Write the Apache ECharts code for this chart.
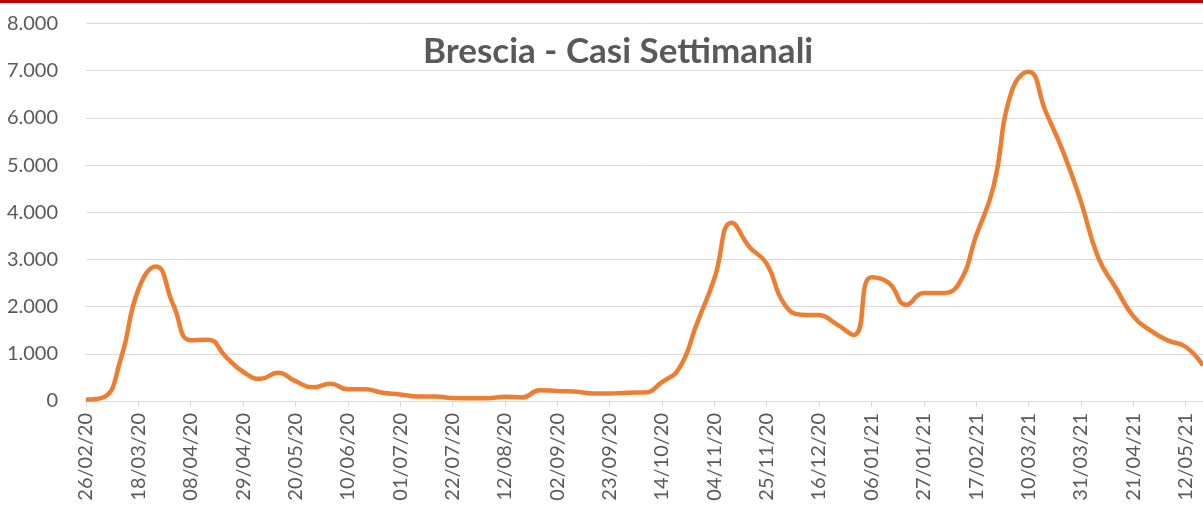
<!DOCTYPE html>
<html>
<head>
<meta charset="utf-8">
<title>Brescia - Casi Settimanali</title>
<script src="https://cdn.jsdelivr.net/npm/echarts@6/dist/echarts.min.js"></script>
<style>
  html, body { margin: 0; padding: 0; background: #fff; }
  #chart { width: 1203px; height: 512px; }
</style>
</head>
<body>
<div id="chart"></div>
<script>
// settimane: dal 26/02/20, una ogni 7 giorni
var firstWeek = '26/02/20';
var weekCount = 65;

// casi settimanali
var casi = [
    30, 80, 900, 2360, 2850, 2040, 1290, 1300, 940, 620,
    470, 600, 420, 290, 365, 250, 250, 175, 140, 95,
    95, 65, 60, 60, 90, 75, 230, 210, 200, 160,
    160, 175, 180, 400, 700, 1640, 2590, 3780, 3270, 2910,
    2060, 1830, 1820, 1630, 1400, 2620, 2500, 2040, 2290, 2290,
    2480, 3500, 4550, 6520, 6980, 6120, 5270, 4230, 3040, 2400,
    1800, 1490, 1280, 1150, 750
];

var yTicks = [0, 1000, 2000, 3000, 4000, 5000, 6000, 7000, 8000];

function pad(n) { return (n < 10 ? '0' : '') + n; }

function buildWeeks(start, n) {
    var p = start.split('/');
    var d = new Date(2000 + (+p[2]), (+p[1]) - 1, +p[0]);
    var out = [];
    for (var i = 0; i < n; i++) {
        out.push(pad(d.getDate()) + '/' + pad(d.getMonth() + 1) + '/' + pad(d.getFullYear() % 100));
        d.setDate(d.getDate() + 7);
    }
    return out;
}

var settimane = buildWeeks(firstWeek, weekCount);

var chart = echarts.init(document.getElementById('chart'));

var textColor = '#595959';
var gridColor = '#d9d9d9';

option = {
    animation: false,
    backgroundColor: '#fff',
    title: {
        text: 'Brescia - Casi Settimanali',
        left: 418,
        top: 29,
        textStyle: {
            color: textColor,
            fontFamily: 'Lato',
            fontWeight: 'bold',
            fontSize: 35
        }
    },
    graphic: [{
        type: 'rect',
        left: 0,
        top: 0,
        shape: { width: 1203, height: 3 },
        style: { fill: '#c00000' }
    }],
    grid: {
        left: 86,
        right: -7,
        top: 23.5,
        bottom: 111,
        containLabel: false
    },
    xAxis: {
        type: 'category',
        data: settimane,
        boundaryGap: false,
        axisLine: { lineStyle: { color: gridColor, width: 1 } },
        axisTick: { interval: 2, length: 6, lineStyle: { color: gridColor } },
        axisLabel: {
            interval: 2,
            rotate: 90,
            margin: 12,
            color: textColor,
            fontFamily: 'Lato',
            fontSize: 20
        },
        splitLine: { show: false }
    },
    yAxis: {
        type: 'value',
        min: yTicks[0],
        max: yTicks[yTicks.length - 1],
        interval: 1000,
        axisLine: { show: false },
        axisTick: { show: false },
        axisLabel: {
            margin: 28,
            color: textColor,
            fontFamily: 'Lato',
            fontSize: 20,
            formatter: function (v) {
                return String(v).replace(/\B(?=(\d{3})+(?!\d))/g, '.');
            }
        },
        splitLine: { lineStyle: { color: gridColor, width: 1 } }
    },
    series: [{
        name: 'Casi settimanali',
        type: 'line',
        data: casi,
        smooth: 0.5,
        symbol: 'none',
        lineStyle: { color: '#ED7D31', width: 4.5 }
    }]
};

chart.setOption(option);
</script>
</body>
</html>
